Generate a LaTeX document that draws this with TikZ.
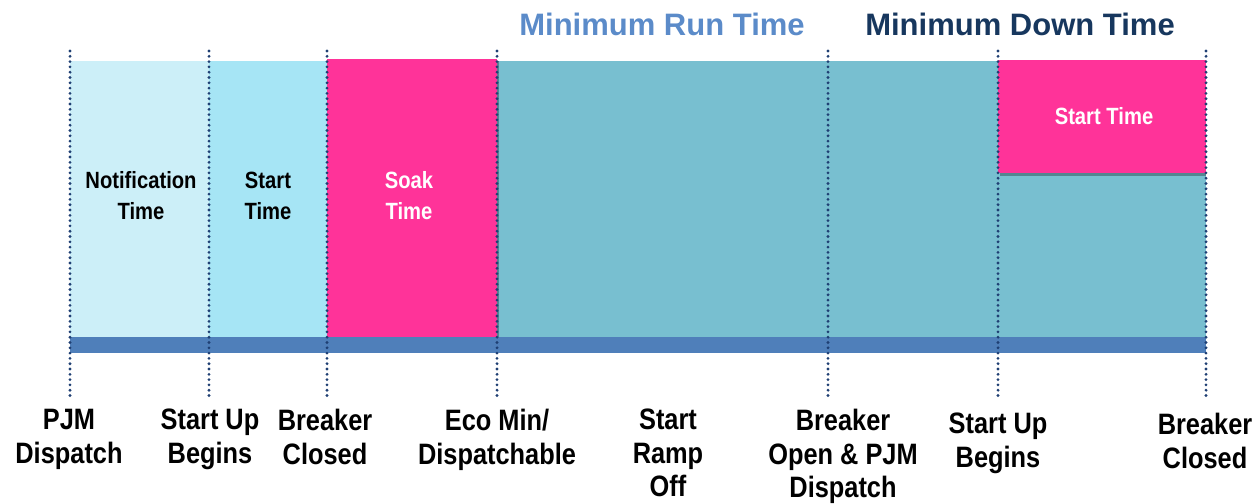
\documentclass[tikz,border=0pt]{standalone}
\usepackage{fontspec}
\usetikzlibrary{decorations.markings}
\setmainfont{Liberation Sans}
\newfontfamily\narrowfont[FakeStretch=0.86]{Liberation Sans}
\definecolor{notif}{HTML}{CCEFF8}
\definecolor{startc}{HTML}{A6E5F5}
\definecolor{pinkc}{HTML}{FF3399}
\definecolor{tealc}{HTML}{78BFD0}
\definecolor{barc}{HTML}{4F7FBA}
\definecolor{runc}{HTML}{5B8BC9}
\definecolor{downc}{HTML}{17375E}
\definecolor{dotc}{HTML}{1F3F73}
\tikzset{
  dotline/.style={draw=none, postaction={decorate}, decoration={markings,
    mark=between positions 0 and 1 step 5.3pt with {\fill[dotc] (0,0) circle (1.55pt);}}},
  title/.style={font=\fontsize{31}{34}\selectfont\bfseries, inner sep=0pt},
  boxlab/.style={font=\narrowfont\fontsize{23.5}{31}\selectfont\bfseries, align=center, inner sep=0pt},
  botlab/.style={font=\narrowfont\fontsize{29.5}{33.5}\selectfont\bfseries, align=center, inner sep=0pt, anchor=north},
  shadow/.style={fill=black, opacity=0.3}
}
\begin{document}
\begin{tikzpicture}[x=1pt,y=-1pt]
\useasboundingbox (0,0) rectangle (1260,503);
% regions
\fill[notif] (70,61) rectangle (209,337);
\fill[startc] (209,61) rectangle (327,337);
\fill[tealc] (497,61) rectangle (1206,337);
\fill[shadow] (329,61) rectangle (499,339.5);
\fill[pinkc] (327,59) rectangle (497,337);
\fill[shadow] (1000,62) rectangle (1206,176);
\fill[pinkc] (998,60) rectangle (1206,173);
\fill[barc] (70,337) rectangle (1206,353);
% dotted time markers
\foreach \n/\x in {a/70,b/209,c/327,d/497,e/828,f/998,g/1206}{
  \coordinate (\n top) at (\x,51);
  \coordinate (\n bot) at (\x,396);
  \path[dotline] (\n top) -- (\n bot);
}
% titles
\node[title, text=runc] (runt) at (662,24) {Minimum Run Time};
\node[title, text=downc] (downt) at (1020,24) {Minimum Down Time};
% box labels
\node[boxlab] (notl) at (141,196) {Notification\\Time};
\node[boxlab] (stl) at (268,196) {Start\\Time};
\node[boxlab, text=white] (soakl) at (409,196) {Soak\\Time};
\node[boxlab, text=white] (st2l) at (1104,116) {Start Time};
% bottom labels
\node[botlab] (l1) at (69,409) {PJM\\Dispatch};
\node[botlab] (l2) at (210,409) {Start Up\\Begins};
\node[botlab] (l3) at (325,409) {Breaker\\Closed};
\node[botlab] (l4) at (497,409) {Eco Min/\\Dispatchable};
\node[botlab] (l5) at (668,409) {Start\\Ramp\\Off};
\node[botlab] (l6) at (843,409) {Breaker\\Open \& PJM\\Dispatch};
\node[botlab] (l7) at (998,413) {Start Up\\Begins};
\node[botlab] (l8) at (1205,413) {Breaker\\Closed};
\end{tikzpicture}
\end{document}
